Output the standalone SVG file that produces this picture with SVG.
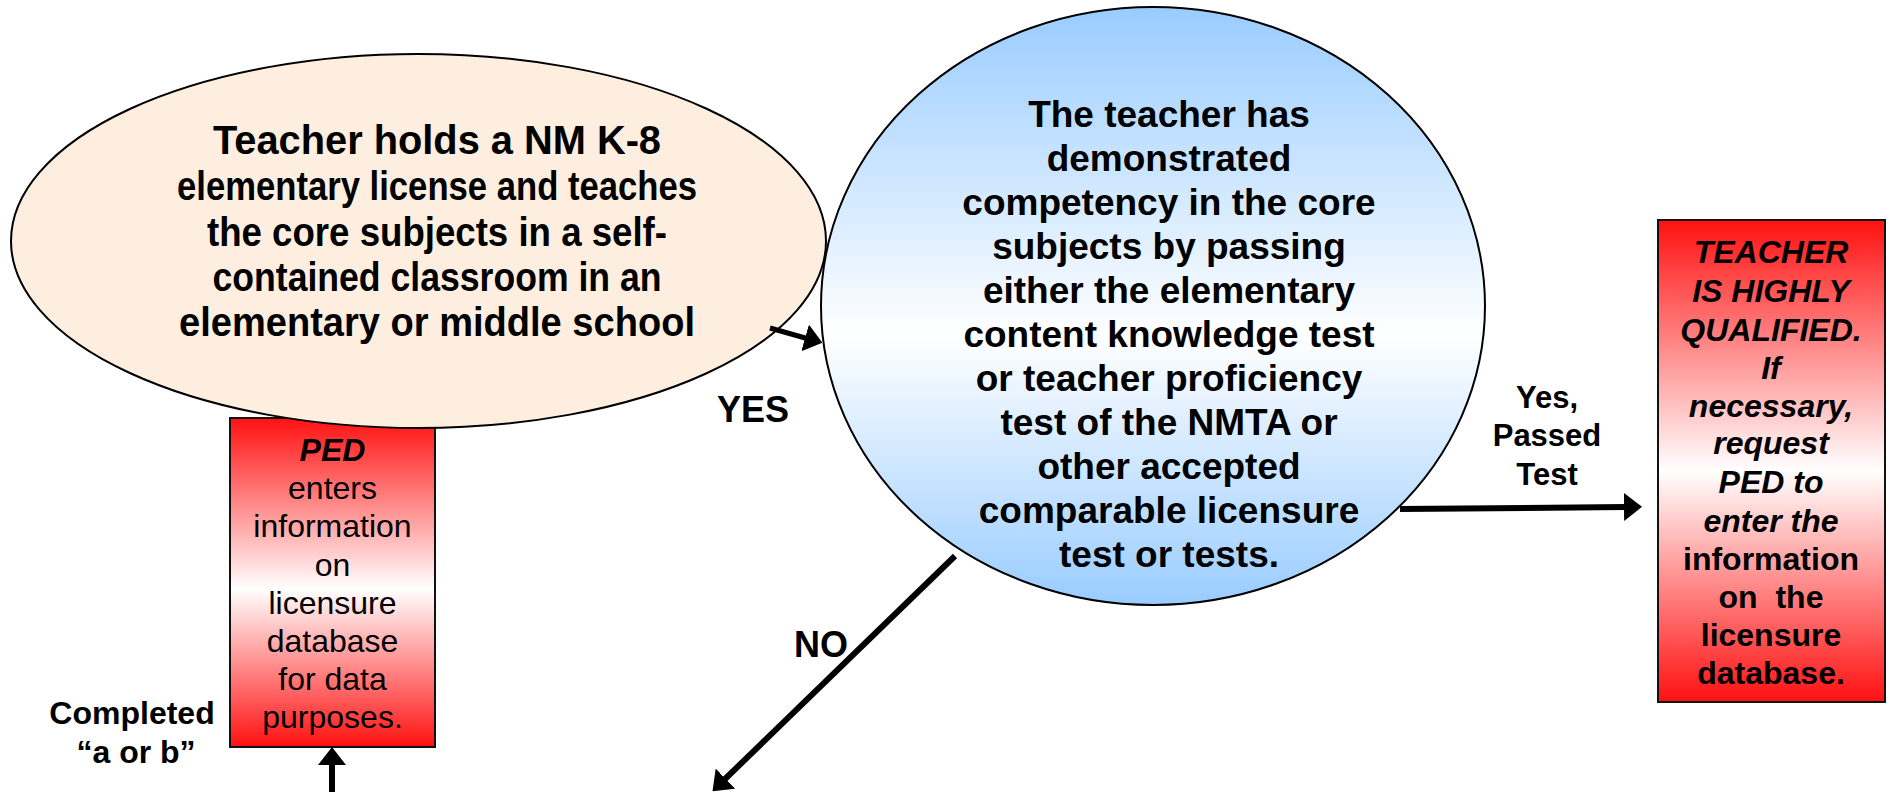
<svg xmlns="http://www.w3.org/2000/svg" width="1893" height="792" viewBox="0 0 1893 792">
<defs>
<linearGradient id="gBlue" x1="0" y1="0" x2="0" y2="1">
<stop offset="0" stop-color="#99CCFF"/>
<stop offset="0.55" stop-color="#FFFFFF"/>
<stop offset="1" stop-color="#99CCFF"/>
</linearGradient>
<linearGradient id="gRed" x1="0" y1="0" x2="0" y2="1">
<stop offset="0" stop-color="#FF1111"/>
<stop offset="0.52" stop-color="#FFFFFF"/>
<stop offset="1" stop-color="#FF1111"/>
</linearGradient>
<marker id="ah" markerUnits="userSpaceOnUse" viewBox="0 0 18 28" refX="2" refY="14" markerWidth="18" markerHeight="28" orient="auto">
<path d="M0,0 L18,14 L0,28 z" fill="#000"/>
</marker>
<style>
.t{font-family:"Liberation Sans",Arial,Helvetica,sans-serif;font-weight:bold;fill:#000;text-anchor:middle}
.n{font-family:"Liberation Sans Narrow","Liberation Sans",Arial,sans-serif;font-weight:bold;fill:#000;text-anchor:middle;font-size:41px}
.r{font-family:"Liberation Sans",Arial,Helvetica,sans-serif;font-weight:normal;fill:#000;text-anchor:middle;font-size:32px}
.i{font-style:italic}
.box{stroke:#111;stroke-width:2}
.ell{stroke:#000;stroke-width:2}
.c{fill:none;stroke:#000;stroke-width:6;marker-end:url(#ah)}
</style>
</defs>

<g id="node-ped-enters">
<rect class="box" x="230" y="418" width="205" height="329" fill="url(#gRed)"/>
<text class="t i" x="332.5" y="461" font-size="32">PED</text>
<text class="r" x="332.5" y="499">enters</text>
<text class="r" x="332.5" y="537">information</text>
<text class="r" x="332.5" y="576">on</text>
<text class="r" x="332.5" y="614">licensure</text>
<text class="r" x="332.5" y="652">database</text>
<text class="r" x="332.5" y="690">for data</text>
<text class="r" x="332.5" y="728">purposes.</text>
</g>

<g id="node-k8-license">
<ellipse class="ell" cx="418.5" cy="241" rx="407.5" ry="187" fill="#FDEEDF"/>
<text class="n" x="437" y="154" textLength="448" lengthAdjust="spacingAndGlyphs">Teacher holds a NM K-8</text>
<text class="n" x="437" y="200" textLength="520" lengthAdjust="spacingAndGlyphs">elementary license and teaches</text>
<text class="n" x="437" y="246" textLength="460" lengthAdjust="spacingAndGlyphs">the core subjects in a self-</text>
<text class="n" x="437" y="291" textLength="449" lengthAdjust="spacingAndGlyphs">contained classroom in an</text>
<text class="n" x="437" y="336" textLength="516" lengthAdjust="spacingAndGlyphs">elementary or middle school</text>
</g>

<g id="node-competency">
<ellipse class="ell" cx="1153" cy="306" rx="332" ry="299" fill="url(#gBlue)"/>
<g class="t" font-size="37">
<text x="1169" y="127">The teacher has</text>
<text x="1169" y="171">demonstrated</text>
<text x="1169" y="215">competency in the core</text>
<text x="1169" y="259">subjects by passing</text>
<text x="1169" y="303">either the elementary</text>
<text x="1169" y="347">content knowledge test</text>
<text x="1169" y="391">or teacher proficiency</text>
<text x="1169" y="435">test of the NMTA or</text>
<text x="1169" y="479">other accepted</text>
<text x="1169" y="523">comparable licensure</text>
<text x="1169" y="567">test or tests.</text>
</g>
</g>

<g id="node-highly-qualified">
<rect class="box" x="1658" y="220" width="227" height="482" fill="url(#gRed)"/>
<g class="t" font-size="32">
<text class="i" x="1771" y="263">TEACHER</text>
<text class="i" x="1771" y="302">IS HIGHLY</text>
<text class="i" x="1771" y="341">QUALIFIED.</text>
<text class="i" x="1771" y="379">If</text>
<text class="i" x="1771" y="417">necessary,</text>
<text class="i" x="1771" y="454">request</text>
<text class="i" x="1771" y="493">PED to</text>
<text class="i" x="1771" y="532">enter the</text>
<text x="1771" y="570">information</text>
<text x="1771" y="608" xml:space="preserve">on  the</text>
<text x="1771" y="646">licensure</text>
<text x="1771" y="684">database.</text>
</g>
</g>

<g id="connectors">
<path class="c" d="M770,328 L807,338.5" style="stroke-width:5"/>
<path class="c" d="M1400,509 L1626,507"/>
<path class="c" d="M955,556 L724,780"/>
<path class="c" d="M332,800 L332,763"/>
</g>

<g id="labels">
<text class="t" x="753" y="422" font-size="36">YES</text>
<text class="t" x="821" y="657" font-size="36">NO</text>
<text class="t" x="1547" y="408" font-size="31">Yes,</text>
<text class="t" x="1547" y="446" font-size="31">Passed</text>
<text class="t" x="1547" y="485" font-size="31">Test</text>
<text class="t" x="132" y="724" font-size="32">Completed</text>
<text class="t" x="136" y="763" font-size="32">“a or b”</text>
</g>
</svg>
